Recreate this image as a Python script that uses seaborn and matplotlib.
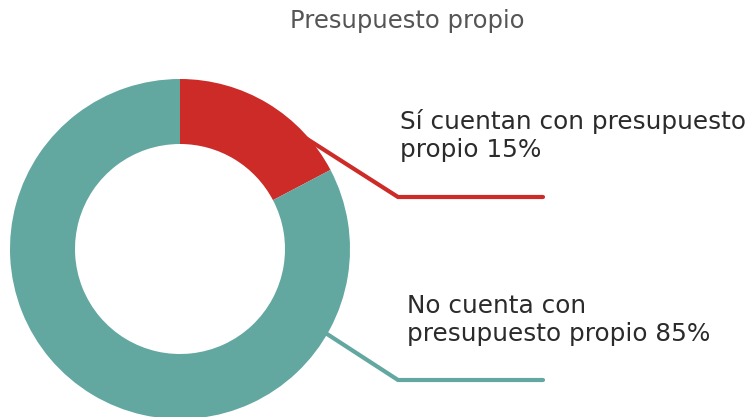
import matplotlib
matplotlib.use("Agg")
import matplotlib.pyplot as plt
import seaborn as sns
import numpy as np

labels = ["Sí cuentan con presupuesto\npropio 15%", "No cuenta con\npresupuesto propio 85%"]
# wedge sizes as drawn in the picture (labels state 15% / 85%)
values = [17.3, 82.7]
colors = ["#CC2B27", "#62A7A0"]
title = "Presupuesto propio"

sns.set_theme(style="white")
plt.rcParams['font.family'] = ['DejaVu Sans']

W, H = 747, 417
fig = plt.figure(figsize=(W / 100, H / 100), dpi=100)
ax = fig.add_axes([0, 0, 1, 1])

cx, cy = 180, H - 249
R, r_in = 170, 105
ax.pie(values, colors=colors, startangle=90, counterclock=False,
       center=(cx, cy), radius=R,
       wedgeprops=dict(width=R - r_in, linewidth=0))

ax.set_xlim(0, W)
ax.set_ylim(0, H)
ax.set_aspect('equal', adjustable='box')
ax.axis('off')

# leader lines
def leader(angle_deg, elbow, end, color):
    a = np.deg2rad(angle_deg)
    sx, sy = cx + (R - 2) * np.cos(a), cy + (R - 2) * np.sin(a)
    ax.plot([sx, elbow[0], end[0]], [sy, H - elbow[1], H - end[1]],
            color=color, lw=3, solid_capstyle='round', solid_joinstyle='miter')

leader(41, (398, 197), (543, 197), colors[0])
leader(-30, (398, 380), (543, 380), colors[1])

ax.text(400, H - 157, labels[0], fontsize=17.8, color="#2b2b2b",
        va='baseline', ha='left', linespacing=1.22)
ax.text(407, H - 341, labels[1], fontsize=17.8, color="#2b2b2b",
        va='baseline', ha='left', linespacing=1.22)

ax.text(407, H - 28, title, fontsize=17.5, color="#555555", ha='center', va='baseline')

fig.savefig("out.png", dpi=100)
